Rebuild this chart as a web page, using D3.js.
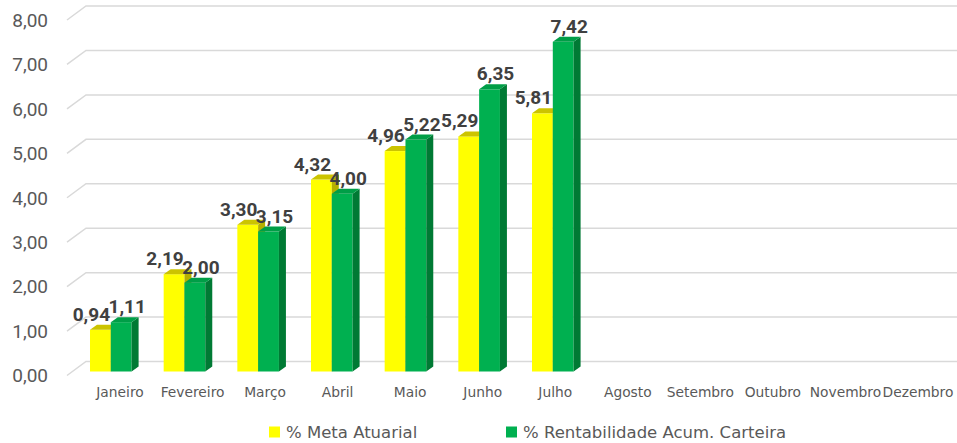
<!DOCTYPE html>
<meta charset="utf-8">
<style>
  body { margin: 0; background: #fff; }
</style>

<!-- Load d3.js -->
<script src="https://cdnjs.cloudflare.com/ajax/libs/d3/7.8.5/d3.min.js"></script>

<div id="my_dataviz"></div>

<script>

// data
var months = ["Janeiro", "Fevereiro", "Março", "Abril", "Maio", "Junho", "Julho",
              "Agosto", "Setembro", "Outubro", "Novembro", "Dezembro"];
var seriesNames = ["% Meta Atuarial", "% Rentabilidade Acum. Carteira"];
var metaAtuarial = [0.94, 2.19, 3.30, 4.32, 4.96, 5.29, 5.81];
var rentabilidade = [1.11, 2.00, 3.15, 4.00, 5.22, 6.35, 7.42];
var yTicks = [0, 1, 2, 3, 4, 5, 6, 7, 8];

// colors: front, side, top
var colors = [
  {front: "#FFFF00", side: "#B5B000", top: "#CCC400"},
  {front: "#00B050", side: "#007A34", top: "#009E47"}
];
var labelShift = [-9, 6];

var width = 957, height = 443;
var depthX = 7, depthY = 5;   // 3d offset of the bars

var svg = d3.select("#my_dataviz")
  .append("svg")
    .attr("width", width)
    .attr("height", height);

// scales
var x0 = d3.scaleBand().domain(months).range([74, 958]);
var x1 = d3.scaleBand().domain([0, 1]).range([16, 57.6]);
var xLabel = d3.scalePoint().domain(months).range([120, 918]);
var y = d3.scaleLinear().domain([0, 8]).range([371.5, 16]);

var fmt = function(v) { return d3.format(".2f")(v).replace(".", ","); };

// gridlines (back wall + left floor edge)
var grid = svg.append("g");
yTicks.forEach(function(t) {
  grid.append("path")
    .attr("d", "M67," + (y(t) + 4) + "L86," + (y(t) - 10) + "L" + width + "," + (y(t) - 10))
    .attr("fill", "none")
    .attr("stroke", "#D9D9D9")
    .attr("stroke-width", 1.5);
});

// y axis labels
svg.append("g")
  .selectAll("text")
  .data(yTicks)
  .enter()
  .append("text")
    .attr("x", 48)
    .attr("y", function(d) { return y(d) + 4; })
    .attr("dy", "0.36em")
    .attr("text-anchor", "end")
    .style("font-family", "Roboto")
    .style("font-size", "19px")
    .style("fill", "#595959")
    .text(fmt);

// x axis labels
svg.append("g")
  .selectAll("text")
  .data(months)
  .enter()
  .append("text")
    .attr("x", function(d) { return xLabel(d); })
    .attr("y", 392)
    .attr("dy", "0.36em")
    .attr("text-anchor", "middle")
    .style("font-family", "DejaVu Sans")
    .style("font-size", "13.8px")
    .style("fill", "#595959")
    .text(function(d) { return d; });

// bars
var bw = x1.bandwidth();
var bars = svg.append("g");
var allSeries = [metaAtuarial, rentabilidade];

metaAtuarial.forEach(function(v, i) {
  allSeries.forEach(function(s, k) {
    var val = s[i];
    var bx = x0(months[i]) + x1(k);
    var top = y(val), base = y(0);
    var c = colors[k];
    // front
    bars.append("rect")
      .attr("x", bx).attr("y", top)
      .attr("width", bw).attr("height", base - top)
      .attr("fill", c.front);
    // side
    bars.append("path")
      .attr("d", "M" + (bx + bw) + "," + top + "L" + (bx + bw + depthX) + "," + (top - depthY) +
                 "L" + (bx + bw + depthX) + "," + (base - depthY) + "L" + (bx + bw) + "," + base + "Z")
      .attr("fill", c.side);
    // top
    bars.append("path")
      .attr("d", "M" + bx + "," + top + "L" + (bx + depthX) + "," + (top - depthY) +
                 "L" + (bx + bw + depthX) + "," + (top - depthY) + "L" + (bx + bw) + "," + top + "Z")
      .attr("fill", c.top);
  });
});

// data labels
var labels = svg.append("g");
allSeries.forEach(function(s, k) {
  labels.selectAll(".lab" + k)
    .data(s)
    .enter()
    .append("text")
      .attr("class", "lab" + k)
      .attr("x", function(d, i) { return x0(months[i]) + x1(k) + bw / 2 + labelShift[k]; })
      .attr("y", function(d) { return y(d) - 9; })
      .attr("text-anchor", "middle")
      .style("font-family", "Roboto")
      .style("font-weight", "bold")
      .style("font-size", "19px")
      .style("fill", "#404040")
      .text(fmt);
});

// legend
var legendX = [269, 506];
var legend = svg.append("g");
seriesNames.forEach(function(name, k) {
  legend.append("rect")
    .attr("x", legendX[k]).attr("y", 426.5)
    .attr("width", 11).attr("height", 11)
    .attr("fill", colors[k].front);
  legend.append("text")
    .attr("x", legendX[k] + 17)
    .attr("y", 437.5)
    .style("font-family", "DejaVu Sans")
    .style("font-size", "16.5px")
    .style("fill", "#595959")
    .text(name);
});

</script>
